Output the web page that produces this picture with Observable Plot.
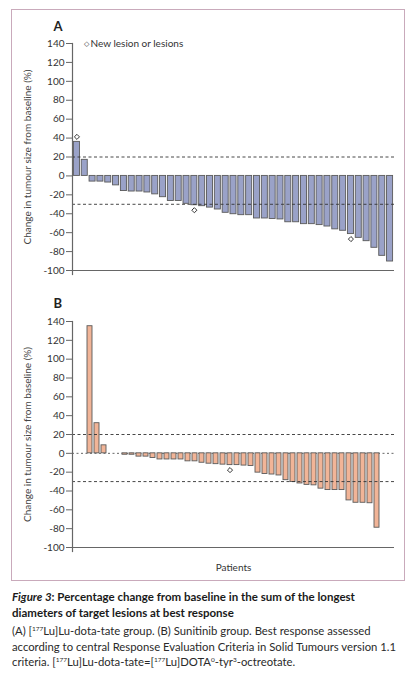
<!DOCTYPE html>
<html>
<head>
<meta charset="utf-8">
<script src="https://cdn.jsdelivr.net/npm/d3@7"></script>
<script src="https://cdn.jsdelivr.net/npm/@observablehq/plot@0.6"></script>
<style>
  html, body { margin: 0; padding: 0; background: #fff; }
  body { width: 416px; height: 680px; position: relative; overflow: hidden; font-family: Lato, "Open Sans", sans-serif; color: #222; }
  #frame { position: absolute; left: 11px; top: 9px; width: 392px; height: 570px; border: 1px solid #c9aabb; }
  #pa, #pb { position: absolute; left: 0; }
  #pa { top: 0; }
  #pb { top: 284px; }
  #cap { position: absolute; left: 12px; top: 589px; width: 404px; }
  #cap .t { font-weight: 700; font-size: 11.5px; line-height: 16px; color: #1a1a1a; }
  #cap .b { font-size: 11.3px; line-height: 15.5px; margin-top: 2px; color: #2a2a2a; }
  sup { font-size: 6.5px; vertical-align: 4px; line-height: 0; }
</style>
</head>
<body>
<div id="frame"></div>
<div id="pa"></div>
<div id="pb"></div>
<div id="cap">
  <div class="t"><i>Figure 3</i>: Percentage change from baseline in the sum of the longest<br>diameters of target lesions at best response</div>
  <div class="b">(A) [<sup>177</sup>Lu]Lu-dota-tate group. (B) Sunitinib group. Best response assessed<br>according to central Response Evaluation Criteria in Solid Tumours version 1.1<br>criteria. [<sup>177</sup>Lu]Lu-dota-tate=[<sup>177</sup>Lu]DOTA<sup>0</sup>-tyr<sup>3</sup>-octreotate.</div>
</div>
<script>
// ---- Data ----
const valuesA = [36, 17, -6, -6, -7, -10, -16, -16.5, -16.5, -17.5, -19.5, -22.5, -26.5, -26.5, -29.5,
  -31, -32, -33.5, -35.5, -39, -40.5, -41.5, -41.5, -45, -45, -45.5, -46, -49, -49, -51, -51,
  -52, -53.5, -56.5, -58, -61.5, -65.5, -69, -76, -84.5, -90.5];
const newLesionA = [1, 16, 36];

const valuesB = [135, 32, 8.5, 0, 0, -1.5, -1.5, -3.5, -3.5, -5, -6.5, -6.5, -6.5, -6.5, -8.5, -8.5,
  -10, -11, -11.5, -12, -12.5, -12.5, -13, -13.5, -20.5, -22, -22.5, -23.5, -28.5, -30.5, -32,
  -33.5, -34, -37.5, -39, -39, -39, -50, -52.5, -52.5, -53, -79];
const newLesionB = [21];

const yTicks = [-100, -80, -60, -40, -20, 0, 20, 40, 60, 80, 100, 120, 140];
const refLines = [20, -30];
const yLabel = "Change in tumour size from baseline (%)";
const legendLabel = "New lesion or lesions";
const xLabel = "Patients";

function panel(values, newLesion, o) {
  const data = values.map((v, i) => ({id: i + 1, v}));
  const nl = data.filter(d => newLesion.includes(d.id));
  const pos = nl.filter(d => d.v >= 0), neg = nl.filter(d => d.v < 0);
  const marks = [];
  if (o.zero) marks.push(Plot.ruleY([0], {stroke: "#555", strokeDasharray: "2,2.5", strokeWidth: 0.9}));
  marks.push(
    Plot.barY(data, {x: "id", y: "v", fill: o.fill, stroke: "#5a5a5a", strokeWidth: 0.9}),
    Plot.ruleY(refLines, {stroke: "#333", strokeDasharray: "3,2.5", strokeWidth: 0.9}),
    Plot.ruleY([-100], {stroke: "#666", strokeWidth: 1.2}),
    Plot.frame({anchor: "left", stroke: "#666", strokeWidth: 1.2, insetBottom: -4}),
    Plot.axisY({ticks: yTicks, tickSize: 6, tickPadding: 2, label: null, stroke: "#666",
      tickFormat: d => (d < 0 ? "-" + Math.abs(d) : String(d)), fontSize: 10, fill: "#333"}),
    Plot.text([yLabel], {frameAnchor: "left", dx: -45, rotate: -90, textAnchor: "middle", lineAnchor: "middle", fontSize: 10, fill: "#444"}),
    Plot.text([o.letter], {frameAnchor: "top-left", dx: -19, dy: o.letterDy, lineAnchor: "top", textAnchor: "start", fontSize: 13, fontWeight: "bold", fill: "#222"}),
    Plot.dot(pos, {x: "id", y: "v", dy: -5, symbol: "diamond2", r: 2.3, stroke: "#333", strokeWidth: 1, fill: "white"}),
    Plot.dot(neg, {x: "id", y: "v", dy: 5, symbol: "diamond2", r: 2.3, stroke: "#333", strokeWidth: 1, fill: "white"})
  );
  if (o.legend) {
    marks.push(
      Plot.text(["◇"], {frameAnchor: "top-left", dx: 11, dy: 0, lineAnchor: "middle", fontSize: 7, fill: "#333"}),
      Plot.text([legendLabel], {frameAnchor: "top-left", dx: 18, dy: 0, lineAnchor: "middle", textAnchor: "start", fontSize: 10, fill: "#333"})
    );
  }
  if (o.xlab) {
    marks.push(Plot.text([xLabel], {frameAnchor: "bottom", dy: 20, lineAnchor: "middle", fontSize: 10, fill: "#333"}));
  }
  return Plot.plot({
    width: 416, height: o.height,
    marginLeft: 72, marginRight: 22, marginTop: o.mt, marginBottom: o.mb,
    style: {fontFamily: "Lato, 'Open Sans', sans-serif", fontSize: "10px", background: "transparent", overflow: "visible"},
    x: {type: "band", domain: data.map(d => d.id), paddingInner: 0.23, paddingOuter: o.po, axis: null},
    y: {domain: [-100, 140], axis: null},
    marks
  });
}

document.getElementById("pa").appendChild(panel(valuesA, newLesionA,
  {fill: "#9aa2c8", letter: "A", letterDy: -22, legend: true, height: 284, mt: 43, mb: 14, po: 0.18}));
document.getElementById("pb").appendChild(panel(valuesB, newLesionB,
  {fill: "#f1b497", letter: "B", letterDy: -23, zero: true, xlab: true, height: 296, mt: 37, mb: 33, po: 0.08}));
</script>
</body>
</html>
